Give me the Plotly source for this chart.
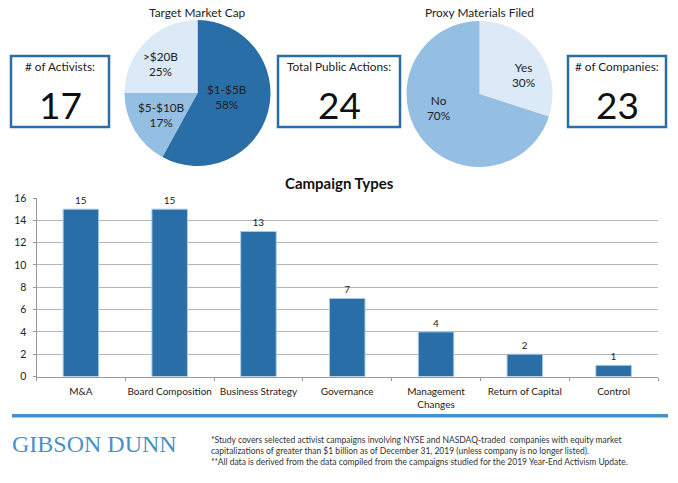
import plotly.graph_objects as go

# campaign types bar chart
campaign_types = ["M&A", "Board Composition", "Business Strategy", "Governance",
                  "Management<br>Changes", "Return of Capital", "Control"]
campaign_counts = [15, 15, 13, 7, 4, 2, 1]
y_ticks = [0, 2, 4, 6, 8, 10, 12, 14, 16]

# pies
cap_labels = ["$1-$5B", "$5-$10B", ">$20B"]
cap_values = [58, 17, 25]
proxy_labels = ["Yes", "No"]
proxy_values = [30, 70]

# stat boxes
stat_titles = ["# of Activists:", "Total Public Actions:", "# of Companies:"]
stat_values = ["17", "24", "23"]

footnotes = ("*Study covers selected activist campaigns involving NYSE and NASDAQ-traded  companies with equity market<br>"
             "capitalizations of greater than $1 billion as of December 31, 2019 (unless company is no longer listed).<br>"
             "**All data is derived from the data compiled from the campaigns studied for the 2019 Year-End Activism Update.")

W, H = 678, 483
FONT = "Lato"
DARK = "#2A6EA8"
MID = "#95BEE3"
LIGHT = "#DCE9F6"
TEXT = "#222222"


def px(x):
    return x / W


def py(y):
    return 1 - y / H


fig = go.Figure()

fig.add_trace(go.Pie(
    labels=cap_labels, values=cap_values, textinfo="none",
    marker=dict(colors=[DARK, MID, LIGHT]), sort=False, direction="clockwise", rotation=0,
    domain=dict(x=[px(124.5), px(270.5)], y=[py(166), py(20)]),
    showlegend=False, hoverinfo="label+percent",
))
fig.add_trace(go.Pie(
    labels=proxy_labels, values=proxy_values, textinfo="none",
    marker=dict(colors=[LIGHT, MID]), sort=False, direction="clockwise", rotation=0,
    domain=dict(x=[px(406.5), px(552.5)], y=[py(167), py(21)]),
    showlegend=False, hoverinfo="label+percent",
))

fig.add_trace(go.Bar(
    x=campaign_types, y=campaign_counts, text=campaign_counts, textposition="outside",
    textfont=dict(family=FONT, size=10, color=TEXT), cliponaxis=False,
    marker=dict(color=DARK, line=dict(color="#A9CBE6", width=1)),
    width=0.4, showlegend=False,
))

annotations = []


def add_text(x, y, text, size, color=TEXT, bold=False, family=FONT, align="center", xanchor="center"):
    annotations.append(dict(
        x=px(x), y=py(y), xref="paper", yref="paper", text=f"<b>{text}</b>" if bold else text,
        showarrow=False, xanchor=xanchor, yanchor="middle", align=align,
        font=dict(family=family, size=size, color=color),
    ))


add_text(197, 12, "Target Market Cap", 11.9)
add_text(479, 12, "Proxy Materials Filed", 11.9)
add_text(339, 183, "Campaign Types", 15, color="#111111", bold=True)

# pie slice labels sit where the reference has them
cap_pos = [(227, 97), (161, 115), (160, 64)]
proxy_pos = [(523, 75), (438, 108)]
for (x, y), lab, val in zip(cap_pos, cap_labels, cap_values):
    add_text(x, y, f"{lab}<br>{val}%", 11.8)
for (x, y), lab, val in zip(proxy_pos, proxy_labels, proxy_values):
    add_text(x, y, f"{lab}<br>{val}%", 11.8)

# stat boxes
boxes = [(11, 109), (278, 400), (568, 666)]
shapes = []
for (x0, x1), title, val in zip(boxes, stat_titles, stat_values):
    shapes.append(dict(type="rect", xref="paper", yref="paper", x0=px(x0), x1=px(x1),
                       y0=py(127), y1=py(56), line=dict(color=DARK, width=2.5), fillcolor="white"))
    add_text((x0 + x1) / 2, 66, title, 11.8)
    add_text((x0 + x1) / 2, 105, val, 37, color="#111111")

# footer rule
shapes.append(dict(type="rect", xref="paper", yref="paper", x0=px(12), x1=px(668),
                   y0=py(417.5), y1=py(414), line=dict(width=0), fillcolor="#4A8FC7"))

add_text(10, 444, "GIBSON DUNN", 24, color="#4A90C8", family="Liberation Serif", xanchor="left", align="left")
add_text(209, 451, footnotes, 8.5, color="#333333", xanchor="left", align="left")

fig.update_layout(
    width=W, height=H, margin=dict(l=0, r=0, t=0, b=0),
    paper_bgcolor="white", plot_bgcolor="white",
    font=dict(family=FONT, size=10, color=TEXT),
    shapes=shapes, annotations=annotations,
    xaxis=dict(domain=[px(36.5), px(658)], tickson="boundaries", ticks="outside", ticklen=3,
               tickcolor="#999999", linecolor="#999999", showline=True, showgrid=False, automargin=False,
               ticklabelstandoff=5, tickangle=0, tickfont=dict(family=FONT, size=10, color=TEXT)),
    yaxis=dict(domain=[py(376.5), py(198)], range=[0, 16], tickvals=y_ticks, ticks="outside", ticklen=3,
               tickcolor="#999999", linecolor="#999999", showline=True, gridcolor="#B5B5B5", automargin=False,
               ticklabelstandoff=4, gridwidth=1, zeroline=False, tickfont=dict(family=FONT, size=10.5, color=TEXT)),
)

# the page's default body margin would push the figure off the window
fig.write_html("out.html", config=dict(displayModeBar=False),
               post_script="document.body.style.margin='0';")
